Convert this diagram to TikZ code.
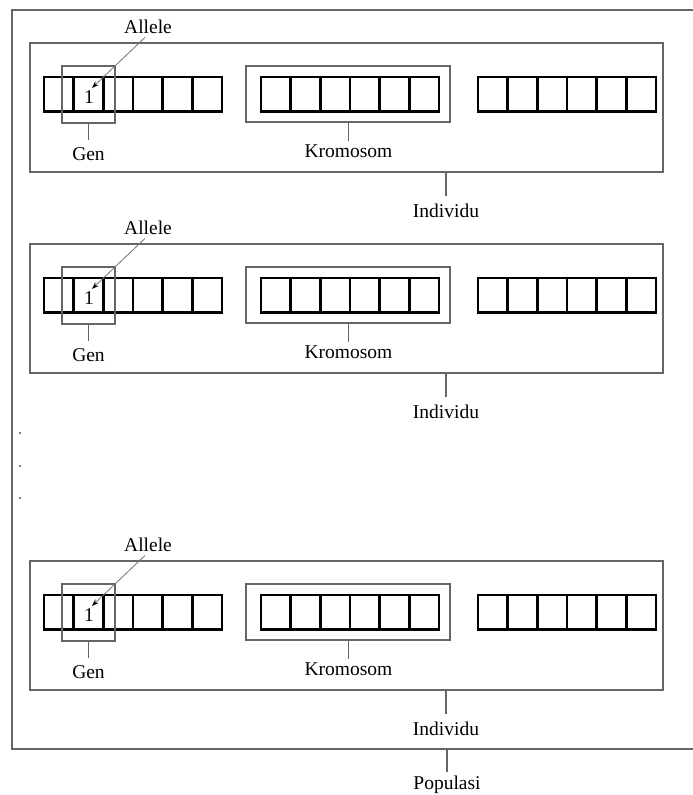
\documentclass[tikz,border=0pt]{standalone}
\usepackage{fontspec}
\setmainfont{Liberation Serif}
\usetikzlibrary{arrows.meta}
\begin{document}
\begin{tikzpicture}[x=1pt,y=-1pt,
  every node/.style={font=\fontsize{19.5}{21}\selectfont},
  cell/.style={draw=black,line width=2.8pt,minimum width=29.67pt,minimum height=34.5pt,inner sep=0pt},
  frame/.style={draw=black!60,line width=1.4pt,inner sep=0pt},
  tick/.style={draw=black!60,line width=1.3pt},
  tag/.style={anchor=base,inner xsep=0pt,inner ysep=7pt},
  pointer/.style={draw=black!55,line width=0.8pt,-{Stealth[length=7pt,width=5pt,black]}}]
\useasboundingbox (0,0) rectangle (693,795);

% population frame (its right side runs past the page edge)
\node[frame,line width=2pt,minimum width=690pt,minimum height=739pt] (pop) at (356.5,379.5) {};
\node[tag,inner ysep=3pt] (poplabel) at (447,789) {Populasi};
\draw[tick] (pop.south -| poplabel) -- (poplabel.north);

% three individuals
\foreach \k/\dy in {1/0,2/201,3/518}{
  \begin{scope}[shift={(0,\dy)}]
    % chromosome cells
    \foreach \c/\x in {a/44,b/261,c/478}{
      \foreach \j in {1,...,6}{
        \node[cell] (\c\k-\j) at ({\x+(\j-0.5)*29.67},94.2) {};
      }
    }
    \node[inner sep=0pt,anchor=base] (one\k) at (89,103) {1};
    % gene, chromosome and individual boxes
    \node[frame,minimum width=53pt,minimum height=57pt] (gen\k) at (88.5,94.5) {};
    \node[frame,minimum width=204pt,minimum height=56pt] (krom\k) at (348,94) {};
    \node[frame,minimum width=633pt,minimum height=129pt] (ind\k) at (346.5,107.5) {};
    % labels
    \node[inner sep=0pt,anchor=base] (allele\k) at (148,33) {Allele};
    \node[tag] (genlabel\k) at (88.5,160) {Gen};
    \node[tag,inner ysep=3pt] (kromlabel\k) at (348.5,157) {Kromosom};
    \node[tag] (indlabel\k) at (446,217) {Individu};
    % connectors
    \draw[pointer] ([xshift=-3pt,yshift=-4pt]allele\k.south) -- ([xshift=3pt,yshift=2pt]one\k.north);
    \draw[tick] (gen\k.south -| genlabel\k) -- (genlabel\k.north);
    \draw[tick] (krom\k.south -| kromlabel\k) -- (kromlabel\k.north);
    \draw[tick] (ind\k.south -| indlabel\k) -- (indlabel\k.north);
  \end{scope}
}

% ellipsis between the second and third individual
\foreach \i/\y in {1/433,2/466,3/498}{
  \node[circle,fill=black!70,inner sep=0pt,minimum size=2.2pt] (dot\i) at (20,\y) {};
}
\end{tikzpicture}
\end{document}
